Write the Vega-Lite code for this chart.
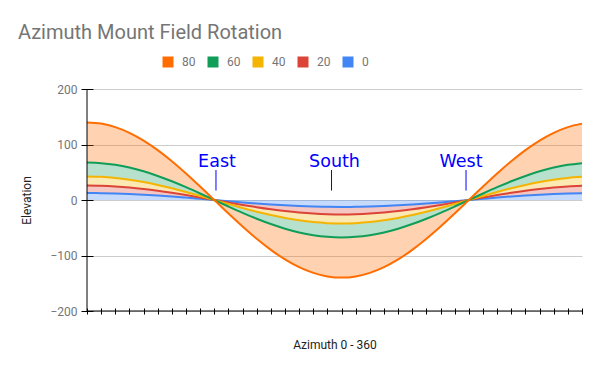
{
  "$schema": "https://vega.github.io/schema/vega-lite/v6.json",
  "width": 495,
  "height": 222,
  "autosize": {"type": "none"},
  "padding": {"left": 87, "top": 89, "right": 18, "bottom": 60},
  "background": "white",
  "title": {
    "text": "Azimuth Mount Field Rotation",
    "anchor": "start",
    "frame": "group",
    "font": "Roboto",
    "fontSize": 20,
    "fontWeight": "normal",
    "color": "#757575",
    "baseline": "alphabetic",
    "dx": -69,
    "dy": 21,
    "offset": 18
  },
  "config": {
    "font": "Roboto",
    "view": {"stroke": null}
  },
  "datasets": {
    "rot": [
      {"az":0,"elev":0,"rate":12.56},{"az":0,"elev":20,"rate":13.37},{"az":0,"elev":40,"rate":16.40},{"az":0,"elev":60,"rate":25.12},{"az":0,"elev":80,"rate":72.33},
      {"az":10,"elev":0,"rate":12.37},{"az":10,"elev":20,"rate":13.16},{"az":10,"elev":40,"rate":16.15},{"az":10,"elev":60,"rate":24.74},{"az":10,"elev":80,"rate":71.23},
      {"az":20,"elev":0,"rate":11.80},{"az":20,"elev":20,"rate":12.56},{"az":20,"elev":40,"rate":15.41},{"az":20,"elev":60,"rate":23.61},{"az":20,"elev":80,"rate":67.97},
      {"az":30,"elev":0,"rate":10.88},{"az":30,"elev":20,"rate":11.58},{"az":30,"elev":40,"rate":14.20},{"az":30,"elev":60,"rate":21.75},{"az":30,"elev":80,"rate":62.64},
      {"az":40,"elev":0,"rate":9.62},{"az":40,"elev":20,"rate":10.24},{"az":40,"elev":40,"rate":12.56},{"az":40,"elev":60,"rate":19.24},{"az":40,"elev":80,"rate":55.41},
      {"az":50,"elev":0,"rate":8.07},{"az":50,"elev":20,"rate":8.59},{"az":50,"elev":40,"rate":10.54},{"az":50,"elev":60,"rate":16.15},{"az":50,"elev":80,"rate":46.49},
      {"az":60,"elev":0,"rate":6.28},{"az":60,"elev":20,"rate":6.68},{"az":60,"elev":40,"rate":8.20},{"az":60,"elev":60,"rate":12.56},{"az":60,"elev":80,"rate":36.17},
      {"az":70,"elev":0,"rate":4.30},{"az":70,"elev":20,"rate":4.57},{"az":70,"elev":40,"rate":5.61},{"az":70,"elev":60,"rate":8.59},{"az":70,"elev":80,"rate":24.74},
      {"az":80,"elev":0,"rate":2.18},{"az":80,"elev":20,"rate":2.32},{"az":80,"elev":40,"rate":2.85},{"az":80,"elev":60,"rate":4.36},{"az":80,"elev":80,"rate":12.56},
      {"az":90,"elev":0,"rate":0},{"az":90,"elev":20,"rate":0},{"az":90,"elev":40,"rate":0},{"az":90,"elev":60,"rate":0},{"az":90,"elev":80,"rate":0},
      {"az":100,"elev":0,"rate":-2.18},{"az":100,"elev":20,"rate":-2.32},{"az":100,"elev":40,"rate":-2.85},{"az":100,"elev":60,"rate":-4.36},{"az":100,"elev":80,"rate":-12.56},
      {"az":110,"elev":0,"rate":-4.30},{"az":110,"elev":20,"rate":-4.57},{"az":110,"elev":40,"rate":-5.61},{"az":110,"elev":60,"rate":-8.59},{"az":110,"elev":80,"rate":-24.74},
      {"az":120,"elev":0,"rate":-6.28},{"az":120,"elev":20,"rate":-6.68},{"az":120,"elev":40,"rate":-8.20},{"az":120,"elev":60,"rate":-12.56},{"az":120,"elev":80,"rate":-36.17},
      {"az":130,"elev":0,"rate":-8.07},{"az":130,"elev":20,"rate":-8.59},{"az":130,"elev":40,"rate":-10.54},{"az":130,"elev":60,"rate":-16.15},{"az":130,"elev":80,"rate":-46.49},
      {"az":140,"elev":0,"rate":-9.62},{"az":140,"elev":20,"rate":-10.24},{"az":140,"elev":40,"rate":-12.56},{"az":140,"elev":60,"rate":-19.24},{"az":140,"elev":80,"rate":-55.41},
      {"az":150,"elev":0,"rate":-10.88},{"az":150,"elev":20,"rate":-11.58},{"az":150,"elev":40,"rate":-14.20},{"az":150,"elev":60,"rate":-21.75},{"az":150,"elev":80,"rate":-62.64},
      {"az":160,"elev":0,"rate":-11.80},{"az":160,"elev":20,"rate":-12.56},{"az":160,"elev":40,"rate":-15.41},{"az":160,"elev":60,"rate":-23.61},{"az":160,"elev":80,"rate":-67.97},
      {"az":170,"elev":0,"rate":-12.37},{"az":170,"elev":20,"rate":-13.16},{"az":170,"elev":40,"rate":-16.15},{"az":170,"elev":60,"rate":-24.74},{"az":170,"elev":80,"rate":-71.23},
      {"az":180,"elev":0,"rate":-12.56},{"az":180,"elev":20,"rate":-13.37},{"az":180,"elev":40,"rate":-16.40},{"az":180,"elev":60,"rate":-25.12},{"az":180,"elev":80,"rate":-72.33},
      {"az":190,"elev":0,"rate":-12.37},{"az":190,"elev":20,"rate":-13.16},{"az":190,"elev":40,"rate":-16.15},{"az":190,"elev":60,"rate":-24.74},{"az":190,"elev":80,"rate":-71.23},
      {"az":200,"elev":0,"rate":-11.80},{"az":200,"elev":20,"rate":-12.56},{"az":200,"elev":40,"rate":-15.41},{"az":200,"elev":60,"rate":-23.61},{"az":200,"elev":80,"rate":-67.97},
      {"az":210,"elev":0,"rate":-10.88},{"az":210,"elev":20,"rate":-11.58},{"az":210,"elev":40,"rate":-14.20},{"az":210,"elev":60,"rate":-21.75},{"az":210,"elev":80,"rate":-62.64},
      {"az":220,"elev":0,"rate":-9.62},{"az":220,"elev":20,"rate":-10.24},{"az":220,"elev":40,"rate":-12.56},{"az":220,"elev":60,"rate":-19.24},{"az":220,"elev":80,"rate":-55.41},
      {"az":230,"elev":0,"rate":-8.07},{"az":230,"elev":20,"rate":-8.59},{"az":230,"elev":40,"rate":-10.54},{"az":230,"elev":60,"rate":-16.15},{"az":230,"elev":80,"rate":-46.49},
      {"az":240,"elev":0,"rate":-6.28},{"az":240,"elev":20,"rate":-6.68},{"az":240,"elev":40,"rate":-8.20},{"az":240,"elev":60,"rate":-12.56},{"az":240,"elev":80,"rate":-36.17},
      {"az":250,"elev":0,"rate":-4.30},{"az":250,"elev":20,"rate":-4.57},{"az":250,"elev":40,"rate":-5.61},{"az":250,"elev":60,"rate":-8.59},{"az":250,"elev":80,"rate":-24.74},
      {"az":260,"elev":0,"rate":-2.18},{"az":260,"elev":20,"rate":-2.32},{"az":260,"elev":40,"rate":-2.85},{"az":260,"elev":60,"rate":-4.36},{"az":260,"elev":80,"rate":-12.56},
      {"az":270,"elev":0,"rate":0},{"az":270,"elev":20,"rate":0},{"az":270,"elev":40,"rate":0},{"az":270,"elev":60,"rate":0},{"az":270,"elev":80,"rate":0},
      {"az":280,"elev":0,"rate":2.18},{"az":280,"elev":20,"rate":2.32},{"az":280,"elev":40,"rate":2.85},{"az":280,"elev":60,"rate":4.36},{"az":280,"elev":80,"rate":12.56},
      {"az":290,"elev":0,"rate":4.30},{"az":290,"elev":20,"rate":4.57},{"az":290,"elev":40,"rate":5.61},{"az":290,"elev":60,"rate":8.59},{"az":290,"elev":80,"rate":24.74},
      {"az":300,"elev":0,"rate":6.28},{"az":300,"elev":20,"rate":6.68},{"az":300,"elev":40,"rate":8.20},{"az":300,"elev":60,"rate":12.56},{"az":300,"elev":80,"rate":36.17},
      {"az":310,"elev":0,"rate":8.07},{"az":310,"elev":20,"rate":8.59},{"az":310,"elev":40,"rate":10.54},{"az":310,"elev":60,"rate":16.15},{"az":310,"elev":80,"rate":46.49},
      {"az":320,"elev":0,"rate":9.62},{"az":320,"elev":20,"rate":10.24},{"az":320,"elev":40,"rate":12.56},{"az":320,"elev":60,"rate":19.24},{"az":320,"elev":80,"rate":55.41},
      {"az":330,"elev":0,"rate":10.88},{"az":330,"elev":20,"rate":11.58},{"az":330,"elev":40,"rate":14.20},{"az":330,"elev":60,"rate":21.75},{"az":330,"elev":80,"rate":62.64},
      {"az":340,"elev":0,"rate":11.80},{"az":340,"elev":20,"rate":12.56},{"az":340,"elev":40,"rate":15.41},{"az":340,"elev":60,"rate":23.61},{"az":340,"elev":80,"rate":67.97},
      {"az":350,"elev":0,"rate":12.37},{"az":350,"elev":20,"rate":13.16},{"az":350,"elev":40,"rate":16.15},{"az":350,"elev":60,"rate":24.74},{"az":350,"elev":80,"rate":71.23}
    ],
    "marks": [
      {"label":"East","az":91.2,"textAz":91.9,"lo":17,"hi":54,"ty":60},
      {"label":"South","az":172.9,"textAz":175,"lo":17,"hi":54,"ty":60},
      {"label":"West","az":268,"textAz":264.5,"lo":17,"hi":54,"ty":60}
    ],
    "frame": [
      {"az":0,"rate":-200}
    ]
  },
  "layer": [
    {
      "mark": {"type": "rule", "color": "#333333", "strokeWidth": 1},
      "encoding": {"y": {"datum": 0, "type": "quantitative"}}
    },
    {
      "data": {"name": "rot"},
      "mark": {
        "type": "area",
        "interpolate": "monotone",
        "fillOpacity": 0.3,
        "line": {"strokeWidth": 2}
      },
      "encoding": {
        "x": {
          "field": "az",
          "type": "quantitative",
          "scale": {"domain": [0, 350], "nice": false, "zero": false},
          "axis": {
            "title": "Azimuth 0 - 360",
            "titleFont": "Roboto",
            "titleFontSize": 12,
            "titleFontWeight": "normal",
            "titleColor": "#222222",
            "titlePadding": 25,
            "values": [0,10,20,30,40,50,60,70,80,90,100,110,120,130,140,150,160,170,180,190,200,210,220,230,240,250,260,270,280,290,300,310,320,330,340,350],
            "tickCount": 40,
            "labels": false,
            "grid": false,
            "domain": false,
            "tickColor": "#000000",
            "tickSize": 6,
            "offset": -3
          }
        },
        "y": {
          "field": "rate",
          "type": "quantitative",
          "stack": "zero",
          "scale": {"domain": [-200, 200], "nice": false},
          "axis": {
            "title": "Elevation",
            "titleFont": "Roboto",
            "titleFontSize": 12,
            "titleFontWeight": "normal",
            "titleColor": "#222222",
            "titlePadding": 16,
            "values": [-200, -100, 0, 100, 200],
            "tickCount": 10,
            "labelFont": "Roboto",
            "labelFontSize": 12,
            "labelColor": "#757575",
            "labelPadding": 4,
            "grid": true,
            "gridColor": "#cccccc",
            "domain": false,
            "tickColor": "#000000",
            "tickSize": 12,
            "offset": -6
          }
        },
        "color": {
          "field": "elev",
          "type": "nominal",
          "scale": {
            "domain": [80, 60, 40, 20, 0],
            "range": ["#ff6d00", "#0f9d58", "#f4b400", "#db4437", "#4285f4"]
          },
          "legend": {
            "title": null,
            "orient": "none",
            "direction": "horizontal",
            "legendX": 75,
            "legendY": -33,
            "symbolType": "square",
            "symbolSize": 121,
            "symbolOpacity": 1,
            "symbolStrokeWidth": 0,
            "labelFont": "Roboto",
            "labelFontSize": 12,
            "labelColor": "#757575",
            "labelOffset": 8,
            "columnPadding": 11
          }
        },
        "order": {"field": "elev", "type": "quantitative", "sort": "ascending"}
      }
    },
    {
      "data": {"name": "frame"},
      "mark": {"type": "rule", "color": "#000000", "strokeWidth": 1},
      "encoding": {"y": {"field": "rate", "type": "quantitative"}}
    },
    {
      "data": {"name": "frame"},
      "mark": {"type": "rule", "color": "#000000", "strokeWidth": 1},
      "encoding": {"x": {"field": "az", "type": "quantitative"}}
    },
    {
      "data": {"name": "marks"},
      "mark": {"type": "rule", "stroke": "#0000ff", "color": "#0000ff", "strokeWidth": 1},
      "encoding": {
        "x": {"field": "az", "type": "quantitative"},
        "y": {"field": "lo", "type": "quantitative"},
        "y2": {"field": "hi"}
      }
    },
    {
      "data": {"name": "marks"},
      "mark": {"type": "text", "color": "#0000ff", "font": "DejaVu Sans", "fontSize": 17.5, "align": "center", "baseline": "alphabetic"},
      "encoding": {
        "x": {"field": "textAz", "type": "quantitative"},
        "y": {"field": "ty", "type": "quantitative"},
        "text": {"field": "label"}
      }
    }
  ]
}
